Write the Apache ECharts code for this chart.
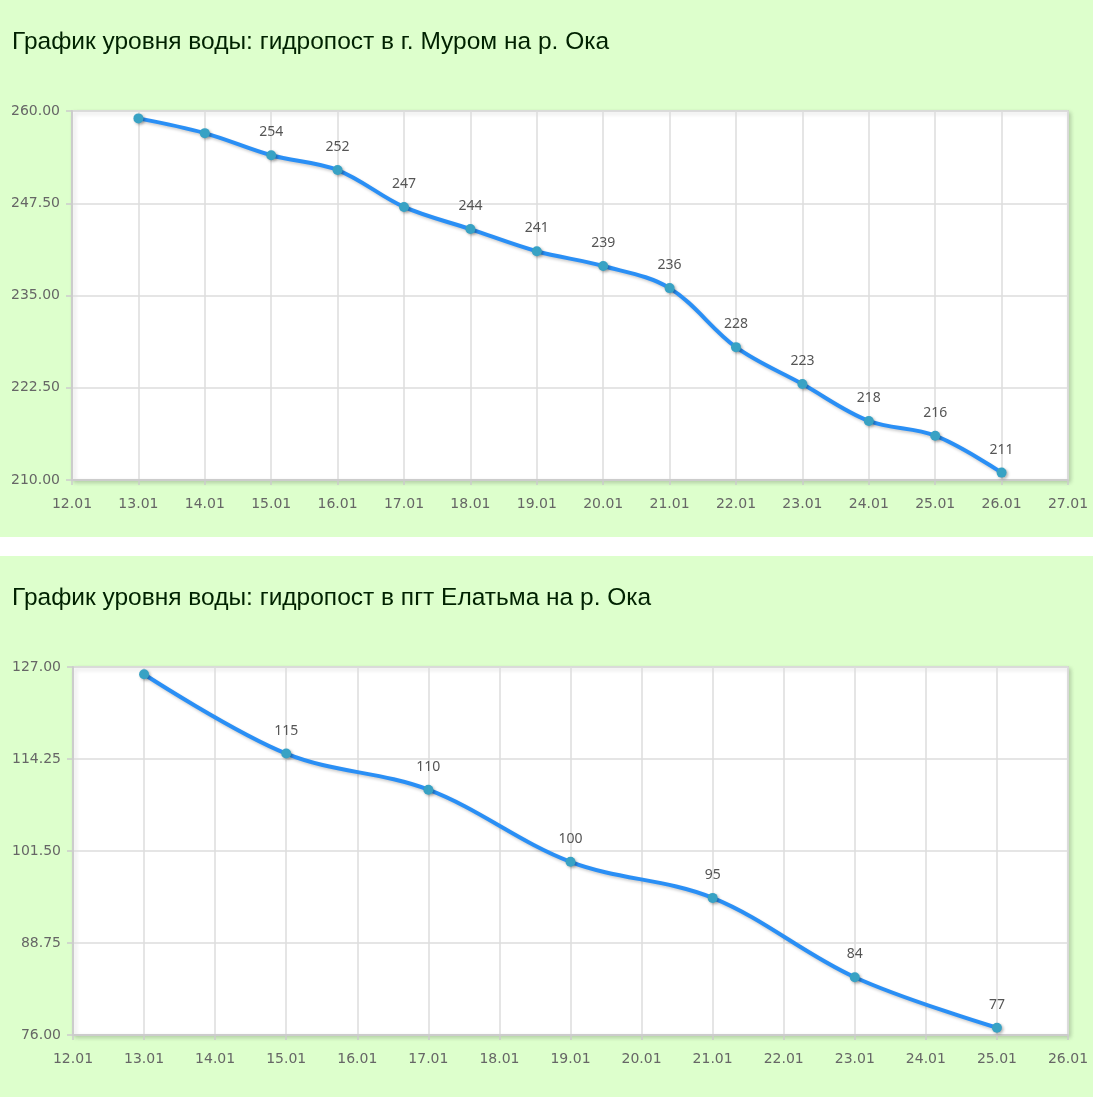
<!DOCTYPE html>
<html>
<head>
<meta charset="utf-8">
<script src="https://cdn.jsdelivr.net/npm/echarts@6/dist/echarts.min.js"></script>
<style>
  html, body { margin: 0; padding: 0; background: #fff; }
  .panel { width: 1093px; background: #ddffcc; }
  #muromBox { height: 537px; }
  #elatmaBox { height: 541px; margin-top: 19px; }
</style>
</head>
<body>
<div class="panel" id="muromBox"></div>
<div class="panel" id="elatmaBox"></div>
<script>
// Муром
const muromTitle = 'График уровня воды: гидропост в г. Муром на р. Ока'
const muromDays = [13, 14, 15, 16, 17, 18, 19, 20, 21, 22, 23, 24, 25, 26]
const muromLevel = [259, 257, 254, 252, 247, 244, 241, 239, 236, 228, 223, 218, 216, 211]
const muromYTicks = [210, 222.5, 235, 247.5, 260]
const muromXRange = [12, 27]
const muromNoLabel = 2

// Елатьма
const elatmaTitle = 'График уровня воды: гидропост в пгт Елатьма на р. Ока'
const elatmaDays = [13, 15, 17, 19, 21, 23, 25]
const elatmaLevel = [126, 115, 110, 100, 95, 84, 77]
const elatmaYTicks = [76, 88.75, 101.5, 114.25, 127]
const elatmaXRange = [12, 26]
const elatmaNoLabel = 1

function makeOption(title, days, level, yTicks, xRange, noLabel) {
    let pts = days.map(function(d, i) {
        return {
            value: [d, level[i]],
            label: { show: i >= noLabel }
        }
    })
    return {
        backgroundColor: '#ddffcc',
        animation: false,
        title: {
            text: title,
            left: 7,
            top: 25,
            textStyle: {
                fontFamily: 'Liberation Sans',
                fontSize: 24.5,
                fontWeight: 'normal',
                color: '#002200'
            }
        },
        grid: {
            left: 72,
            top: 111,
            right: 25,
            height: 369,
            show: true,
            backgroundColor: '#fff',
            borderColor: '#cccccc',
            borderWidth: 1.5,
            shadowColor: 'rgba(0,0,0,0.18)',
            shadowBlur: 4,
            shadowOffsetX: 2,
            shadowOffsetY: 2
        },
        xAxis: {
            type: 'value',
            min: xRange[0],
            max: xRange[1],
            interval: 1,
            axisLine: { show: true, lineStyle: { color: '#cccccc', width: 2 } },
            axisTick: { show: true, length: 5, lineStyle: { color: '#cccccc', width: 1.5 } },
            splitLine: { show: true, lineStyle: { color: '#dddddd', width: 1.5 } },
            axisLabel: {
                margin: 17,
                color: '#666',
                fontFamily: 'DejaVu Sans',
                fontSize: 14,
                formatter: function(v) { return v + '.01' }
            }
        },
        yAxis: {
            type: 'value',
            min: yTicks[0],
            max: yTicks[yTicks.length - 1],
            axisLine: { show: true, lineStyle: { color: '#cccccc', width: 2 } },
            axisTick: { show: true, length: 6, customValues: yTicks, lineStyle: { color: '#cccccc', width: 1.5 } },
            splitLine: { show: true, lineStyle: { color: '#dddddd', width: 1.5 } },
            axisLabel: {
                margin: 12,
                color: '#666',
                fontFamily: 'DejaVu Sans',
                fontSize: 14,
                customValues: yTicks,
                formatter: function(v) { return v.toFixed(2) }
            }
        },
        series: [{
            type: 'line',
            smooth: 0.35,
            data: pts,
            symbol: 'circle',
            symbolSize: 10,
            itemStyle: {
                color: '#38a2c4',
                shadowColor: 'rgba(0,0,0,0.3)',
                shadowBlur: 3,
                shadowOffsetX: 1.5,
                shadowOffsetY: 1.5
            },
            lineStyle: {
                color: '#2a8ff5',
                width: 4,
                shadowColor: 'rgba(0,0,0,0.2)',
                shadowBlur: 3,
                shadowOffsetX: 1.5,
                shadowOffsetY: 2
            },
            label: {
                position: 'top',
                distance: 11,
                color: '#555',
                fontFamily: 'Noto Sans',
                fontSize: 14,
                formatter: function(p) { return p.value[1] }
            }
        }]
    }
}

let muromChart = echarts.init(document.getElementById('muromBox'))
muromChart.setOption(makeOption(muromTitle, muromDays, muromLevel, muromYTicks, muromXRange, muromNoLabel))

let elatmaChart = echarts.init(document.getElementById('elatmaBox'))
let elatmaOpt = makeOption(elatmaTitle, elatmaDays, elatmaLevel, elatmaYTicks, elatmaXRange, elatmaNoLabel)
elatmaOpt.grid.left = 73
elatmaOpt.grid.height = 368
elatmaChart.setOption(elatmaOpt)
</script>
</body>
</html>
